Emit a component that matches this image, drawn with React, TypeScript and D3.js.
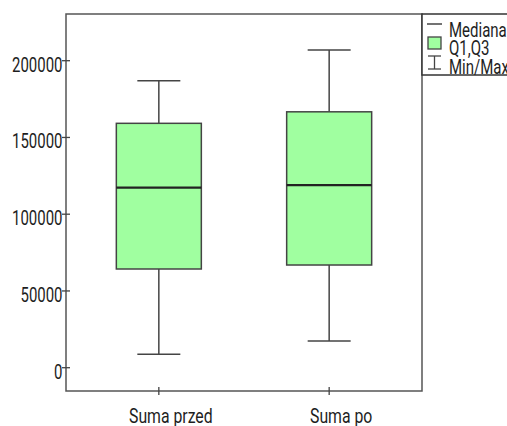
import React from 'react'
import * as d3 from 'd3'

// wartości
const categories = ['Suma przed', 'Suma po']
const minValues = [8700, 17400]
const q1Values = [64300, 66900]
const medianValues = [117300, 119000]
const q3Values = [159200, 166700]
const maxValues = [187000, 207000]
const yTicks = [0, 50000, 100000, 150000, 200000]
const legendLabels = ['Mediana', 'Q1,Q3', 'Min/Max']

const W = 507
const H = 426
const frame = { left: 66, right: 422, top: 14, bottom: 391 }
const font = "Roboto, 'Liberation Sans', sans-serif"
const boxFill = '#a0ffa0'
const lineColor = '#444'
const textColor = '#1e1e1e'

// brak wąskiej czcionki - ściskamy Roboto w poziomie
function NarrowText(props: { x: number, y: number, sx: number, size: number, anchor?: string, children: any }) {
  return (
    <text transform={`translate(${props.x},${props.y}) scale(${props.sx},1)`}
      textAnchor={props.anchor || 'start'} fontFamily={font} fontSize={props.size} fill={textColor}>
      {props.children}
    </text>
  )
}

export default function App() {
  const x = d3.scalePoint<string>()
    .domain(categories)
    .range([frame.left, frame.right])
    .padding(0.545)
  const y = d3.scaleLinear()
    .domain([0, 200000])
    .range([367.7, 60.7])

  const boxW = 85
  const capW = 43

  return (
    <svg width={W} height={H} style={{ position: 'absolute', left: 0, top: 0 }}>
      <rect x={0} y={0} width={W} height={H} fill='#fff' />

      {/* ramka wykresu */}
      <rect x={frame.left} y={frame.top} width={frame.right - frame.left} height={frame.bottom - frame.top}
        fill='none' stroke='#555' strokeWidth={1.5} />

      {/* oś Y */}
      {yTicks.map(t => (
        <g key={t}>
          <line x1={frame.left - 4} x2={frame.left + 4} y1={y(t)} y2={y(t)} stroke='#444' strokeWidth={1.3} />
          <NarrowText x={frame.left - 3.5} y={y(t) + 11} sx={0.73} size={20.5} anchor='end'>{t}</NarrowText>
        </g>
      ))}

      {/* oś X */}
      {categories.map(c => (
        <g key={c}>
          <line x1={x(c)} x2={x(c)} y1={frame.bottom - 4} y2={frame.bottom + 4} stroke='#444' strokeWidth={1.3} />
          <NarrowText x={(x(c) as number) + 12} y={422.5} sx={0.79} size={20} anchor='middle'>{c}</NarrowText>
        </g>
      ))}

      {/* pudełka */}
      {categories.map((c, i) => {
        const cx = x(c) as number
        return (
          <g key={c}>
            <line x1={cx} x2={cx} y1={y(maxValues[i])} y2={y(q3Values[i])} stroke={lineColor} strokeWidth={1.5} />
            <line x1={cx} x2={cx} y1={y(q1Values[i])} y2={y(minValues[i])} stroke={lineColor} strokeWidth={1.5} />
            <line x1={cx - capW / 2} x2={cx + capW / 2} y1={y(maxValues[i])} y2={y(maxValues[i])} stroke={lineColor} strokeWidth={1.5} />
            <line x1={cx - capW / 2} x2={cx + capW / 2} y1={y(minValues[i])} y2={y(minValues[i])} stroke={lineColor} strokeWidth={1.5} />
            <rect x={cx - boxW / 2} y={y(q3Values[i])} width={boxW} height={y(q1Values[i]) - y(q3Values[i])}
              fill={boxFill} stroke={lineColor} strokeWidth={1.5} />
            <line x1={cx - boxW / 2} x2={cx + boxW / 2} y1={y(medianValues[i])} y2={y(medianValues[i])} stroke='#222' strokeWidth={2.2} />
          </g>
        )
      })}

      {/* legenda */}
      <rect x={frame.right} y={frame.top} width={W - frame.right + 10} height={61} fill='#fff' stroke='#333' strokeWidth={1.5} />
      <line x1={427} x2={442} y1={24} y2={24} stroke='#444' strokeWidth={1.5} />
      <rect x={428} y={37} width={13} height={12} fill={boxFill} stroke='#444' strokeWidth={1.3} />
      <line x1={434.5} x2={434.5} y1={56} y2={69} stroke='#444' strokeWidth={1.3} />
      <line x1={428} x2={441} y1={56} y2={56} stroke='#444' strokeWidth={1.3} />
      <line x1={428} x2={441} y1={69} y2={69} stroke='#444' strokeWidth={1.3} />
      {legendLabels.map((l, i) => (
        <NarrowText key={l} x={449} y={36.5 + i * 18.8} sx={0.77} size={19.5}>{l}</NarrowText>
      ))}
    </svg>
  )
}
